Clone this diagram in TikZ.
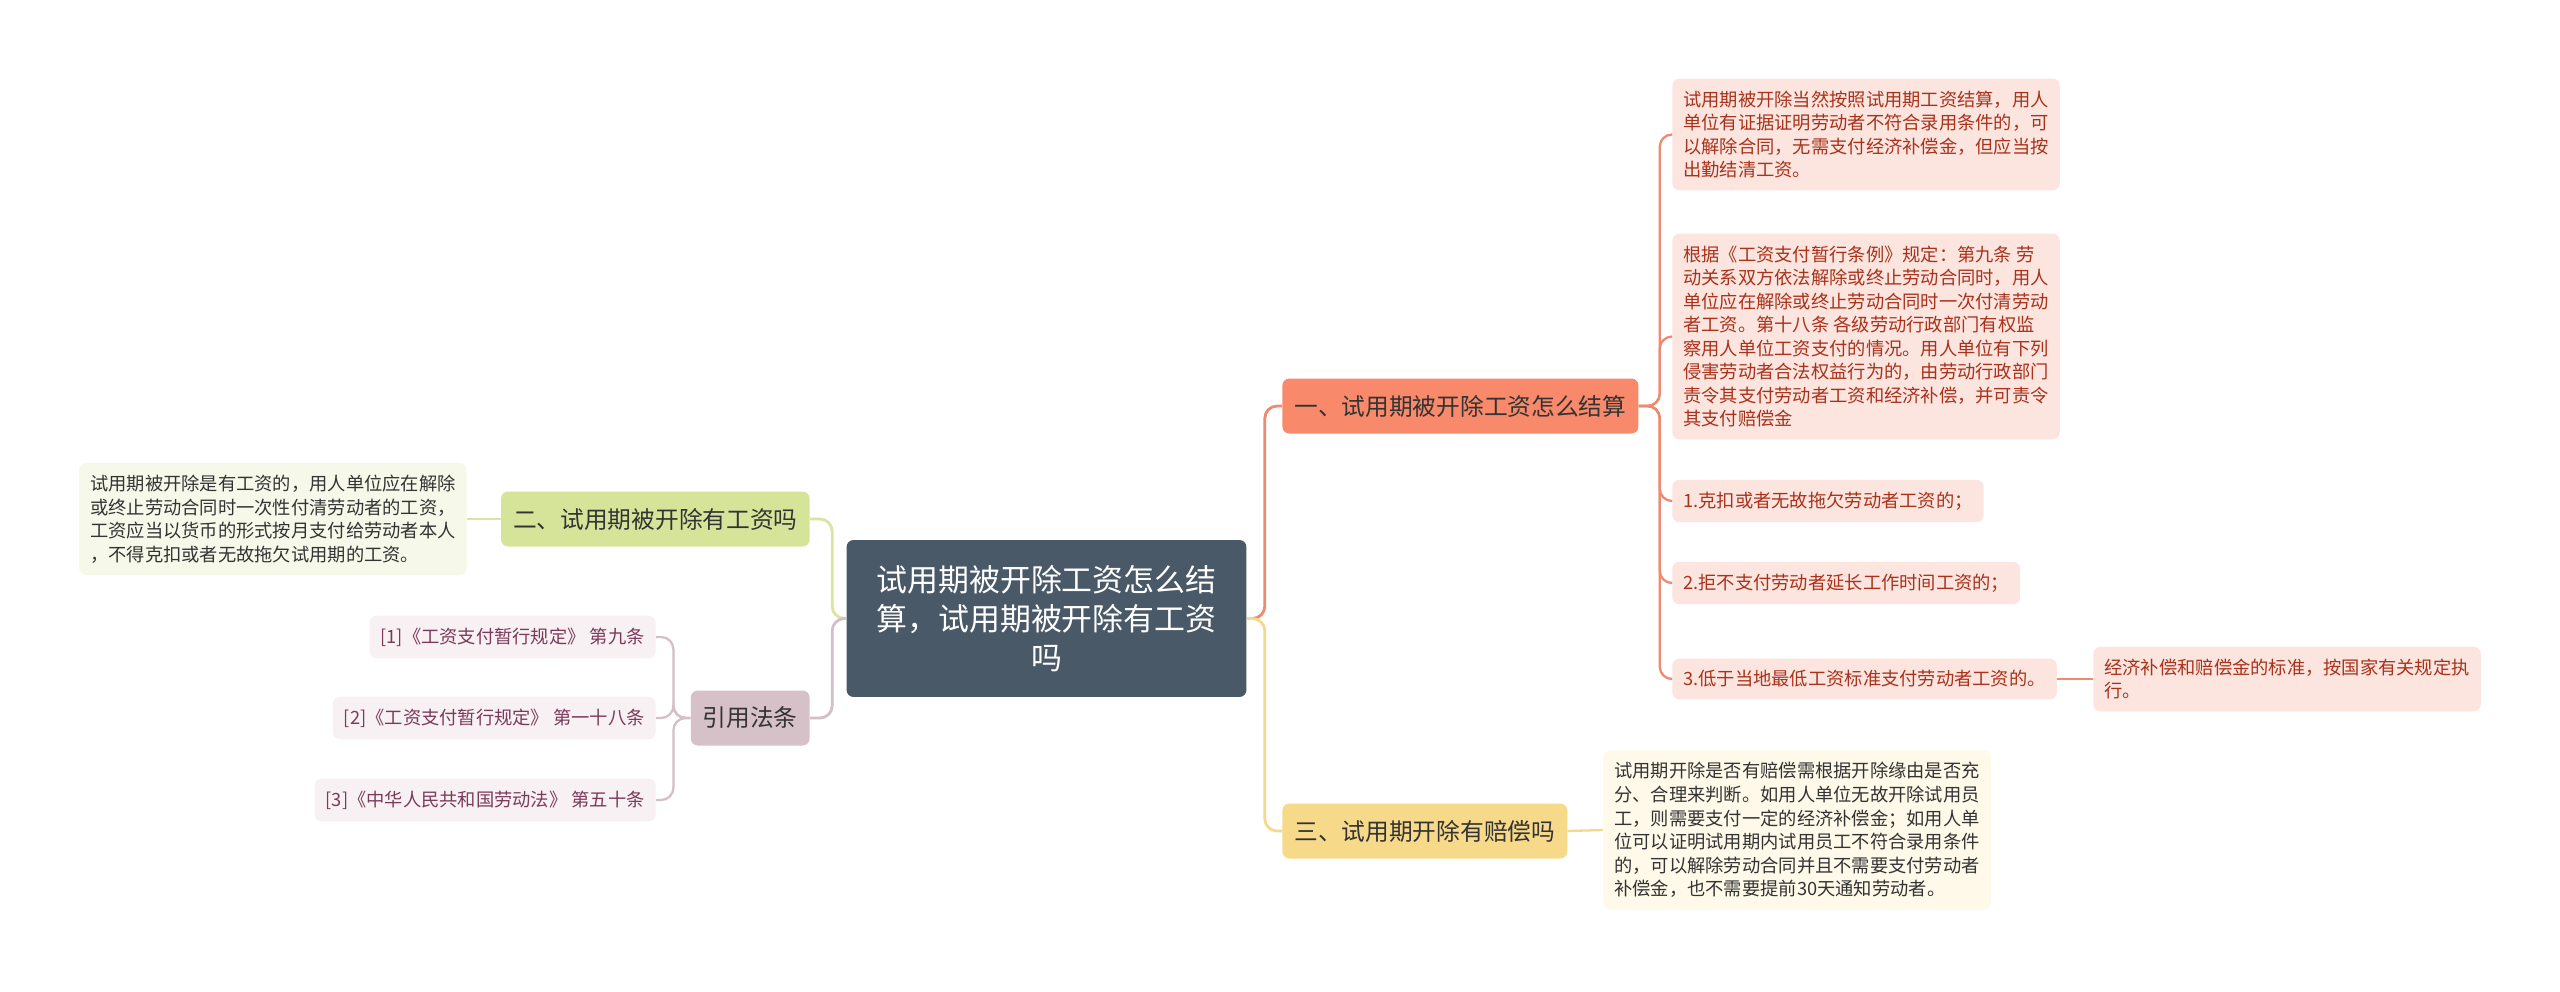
\documentclass[tikz,border=0pt]{standalone}
\usepackage{fontspec}
\setmainfont{Noto Sans CJK SC}
\usetikzlibrary{calc}

\definecolor{slate}{HTML}{4A5968}
\definecolor{maintxt}{HTML}{333333}
\definecolor{salmon}{HTML}{F9896B}
\definecolor{salmonline}{HTML}{EE8A70}
\definecolor{pinkbox}{HTML}{FCE5DF}
\definecolor{pinktxt}{HTML}{A8321B}
\definecolor{sand}{HTML}{F6DA8A}
\definecolor{sandline}{HTML}{F3D98E}
\definecolor{sandbox}{HTML}{FEF9E8}
\definecolor{lime}{HTML}{D6E49A}
\definecolor{limeline}{HTML}{D9E4A3}
\definecolor{limebox}{HTML}{F6F9E9}
\definecolor{mauve}{HTML}{D6C1C8}
\definecolor{mauveline}{HTML}{D3C0C6}
\definecolor{mauvebox}{HTML}{F7F1F3}
\definecolor{mauvetxt}{HTML}{7B3A5A}

\tikzset{
  leaf/.style={rounded corners=4pt, inner xsep=0.22cm, inner ysep=0.24cm, align=left,
    font=\fontsize{10.4pt}{13.4pt}\selectfont},
  topic/.style={rounded corners=4pt, inner xsep=0.24cm, minimum height=1.1cm,
    font=\fontsize{13.5pt}{17pt}\selectfont, text=maintxt},
  link/.style={line width=1.6pt, rounded corners=7pt},
  twig/.style={line width=1.3pt, rounded corners=7pt}
}

\begin{document}
\begin{tikzpicture}[x=0.02cm, y=-0.02cm]
\useasboundingbox (0,0) rectangle (2560,991);
\fill[white] (0,0) rectangle (2560,991);

% root
\node[fill=slate, text=white, rounded corners=4pt, minimum width=8cm, minimum height=3.14cm,
  align=center, font=\fontsize{17.6pt}{22.2pt}\selectfont] (root) at (1046.5,618.5)
  {试用期被开除工资怎么结\\算，试用期被开除有工资\\吗};

% main topics
\node[topic, fill=salmon, anchor=west] (sec1) at (1282,406) {一、试用期被开除工资怎么结算};
\node[topic, fill=sand, anchor=west] (sec3) at (1282,831) {三、试用期开除有赔偿吗};
\node[topic, fill=lime, anchor=east] (sec2) at (810,519) {二、试用期被开除有工资吗};
\node[topic, fill=mauve, anchor=east] (refs) at (810,718) {引用法条};

% part one
\node[leaf, fill=pinkbox, text=pinktxt, anchor=west] (p1) at (1672,134.5)
  {试用期被开除当然按照试用期工资结算，用人\\单位有证据证明劳动者不符合录用条件的，可\\以解除合同，无需支付经济补偿金，但应当按\\出勤结清工资。};
\node[leaf, fill=pinkbox, text=pinktxt, anchor=west] (p2) at (1672,336.5)
  {根据《工资支付暂行条例》规定：第九条 劳\\动关系双方依法解除或终止劳动合同时，用人\\单位应在解除或终止劳动合同时一次付清劳动\\者工资。第十八条 各级劳动行政部门有权监\\察用人单位工资支付的情况。用人单位有下列\\侵害劳动者合法权益行为的，由劳动行政部门\\责令其支付劳动者工资和经济补偿，并可责令\\其支付赔偿金};
\node[leaf, fill=pinkbox, text=pinktxt, anchor=west] (p3) at (1672,501) {1.克扣或者无故拖欠劳动者工资的；};
\node[leaf, fill=pinkbox, text=pinktxt, anchor=west] (p4) at (1672,583) {2.拒不支付劳动者延长工作时间工资的；};
\node[leaf, fill=pinkbox, text=pinktxt, anchor=west] (p5) at (1672,679) {3.低于当地最低工资标准支付劳动者工资的。};
\node[leaf, fill=pinkbox, text=pinktxt, anchor=west] (p6) at (2093,679)
  {经济补偿和赔偿金的标准，按国家有关规定执\\行。};

% part three
\node[leaf, fill=sandbox, text=maintxt, anchor=west] (q1) at (1603,830)
  {试用期开除是否有赔偿需根据开除缘由是否充\\分、合理来判断。如用人单位无故开除试用员\\工，则需要支付一定的经济补偿金；如用人单\\位可以证明试用期内试用员工不符合录用条件\\的，可以解除劳动合同并且不需要支付劳动者\\补偿金，也不需要提前30天通知劳动者。};

% part two
\node[leaf, fill=limebox, text=maintxt, anchor=east] (w1) at (467,519)
  {试用期被开除是有工资的，用人单位应在解除\\或终止劳动合同时一次性付清劳动者的工资，\\工资应当以货币的形式按月支付给劳动者本人\\，不得克扣或者无故拖欠试用期的工资。};

% cited laws
\node[leaf, fill=mauvebox, text=mauvetxt, anchor=east] (r1) at (656,637) {[1]《工资支付暂行规定》 第九条};
\node[leaf, fill=mauvebox, text=mauvetxt, anchor=east] (r2) at (656,718) {[2]《工资支付暂行规定》 第一十八条};
\node[leaf, fill=mauvebox, text=mauvetxt, anchor=east] (r3) at (656,800) {[3]《中华人民共和国劳动法》 第五十条};

% connectors
\draw[link, salmonline] (root.east) -- ++(18,0) |- (sec1.west);
\draw[link, sandline] (root.east) -- ++(18,0) |- (sec3.west);
\draw[link, limeline] (root.west) -- ++(-14,0) |- (sec2.east);
\draw[link, mauveline] (root.west) -- ++(-14,0) |- (refs.east);
\foreach \k in {p1,p2,p3,p4,p5}
  \draw[twig, salmonline] (sec1.east) -- ++(21,0) |- (\k.west);
\draw[twig, salmonline] (p5.east) -- (p6.west);
\draw[twig, sandline] (sec3.east) -- (q1.west);
\draw[twig, limeline] (sec2.west) -- (w1.east);
\foreach \k in {r1,r2,r3}
  \draw[twig, mauveline] (refs.west) -- ++(-17,0) |- (\k.east);
\end{tikzpicture}
\end{document}
